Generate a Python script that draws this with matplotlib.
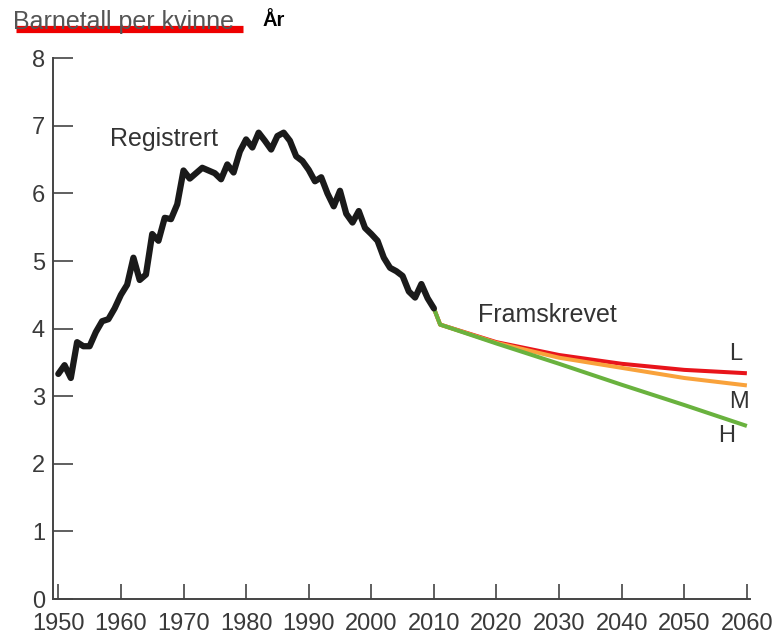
import matplotlib
matplotlib.use("Agg")
import matplotlib.pyplot as plt
from matplotlib.lines import Line2D

plt.rcParams['font.family'] = ['Liberation Sans', 'DejaVu Sans']

# Registered values
reg_years = list(range(1950, 2011))
reg_values = [3.33, 3.46, 3.27, 3.80, 3.74, 3.74, 3.95, 4.11, 4.14, 4.30,
              4.50, 4.65, 5.05, 4.72, 4.80, 5.40, 5.30, 5.64, 5.62, 5.84,
              6.34, 6.22, 6.30, 6.38, 6.34, 6.30, 6.21, 6.43, 6.31, 6.62,
              6.80, 6.68, 6.90, 6.78, 6.65, 6.85, 6.90, 6.78, 6.55, 6.48,
              6.35, 6.18, 6.24, 6.00, 5.81, 6.04, 5.70, 5.57, 5.74, 5.49,
              5.40, 5.30, 5.05, 4.90, 4.85, 4.78, 4.55, 4.46, 4.66, 4.45,
              4.30]

# Projections
proj_years = [2010, 2011, 2020, 2030, 2040, 2050, 2060]
proj_L = [4.30, 4.06, 3.80, 3.61, 3.48, 3.39, 3.34]
proj_M = [4.30, 4.06, 3.79, 3.57, 3.42, 3.27, 3.16]
proj_H = [4.30, 4.06, 3.78, 3.48, 3.17, 2.87, 2.56]

x_ticks = list(range(1950, 2061, 10))
y_ticks = list(range(0, 9))

W, H = 777, 636
fig = plt.figure(figsize=(W / 100, H / 100), dpi=100)
ax = fig.add_axes([53.3 / W, 1 - 599 / H, (750 - 53.3) / W, (599 - 58.3) / H])

ax.plot(proj_years, proj_L, color='#e8141b', lw=2.9, solid_capstyle='butt', zorder=2)
ax.plot(proj_years, proj_M, color='#f9a23b', lw=2.9, solid_capstyle='butt', zorder=3)
ax.plot(proj_years, proj_H, color='#69b23e', lw=2.9, solid_capstyle='butt', zorder=4)
ax.plot(reg_years, reg_values, color='#1a1a1a', lw=4.5, solid_joinstyle='round',
        solid_capstyle='round', zorder=5)

ax.set_xlim(1949.2, 2060.5)
ax.set_ylim(0, 8)
ax.set_xticks(x_ticks)
ax.set_yticks(y_ticks)
ax.set_xticklabels([str(v) for v in x_ticks])
ax.set_yticklabels([str(v) for v in y_ticks])

for s in ['top', 'right']:
    ax.spines[s].set_visible(False)
for s in ['left', 'bottom']:
    ax.spines[s].set_color('#444444')
    ax.spines[s].set_linewidth(1.4)

ax.tick_params(axis='x', direction='in', length=10.5, width=1.2, color='#444444',
               labelsize=17, labelcolor='#3a3a3a', pad=10)
ax.tick_params(axis='y', direction='in', length=14.5, width=1.2, color='#444444',
               labelsize=17, labelcolor='#3a3a3a', pad=6)

ax.text(1966.9, 6.80, 'Registrert', fontsize=18, color='#333333', ha='center', va='center')
ax.text(2028.1, 4.20, 'Framskrevet', fontsize=18, color='#333333', ha='center', va='center')
ax.text(2058.2, 3.62, 'L', fontsize=17, color='#333333', ha='center', va='center')
ax.text(2058.7, 2.91, 'M', fontsize=17, color='#333333', ha='center', va='center')
ax.text(2056.8, 2.41, 'H', fontsize=17, color='#333333', ha='center', va='center')

fig.text(13 / W, 1 - 22 / H, 'Barnetall per kvinne', fontsize=18, color='#555555',
         ha='left', va='center')
fig.add_artist(Line2D([16 / W, 243 / W], [1 - 28.5 / H, 1 - 28.5 / H],
                      transform=fig.transFigure, color='#ee0000', lw=5.2,
                      solid_capstyle='butt'))
fig.text(263 / W, 1 - 20 / H, 'År', fontsize=14.5, fontweight='bold', color='black',
         ha='left', va='center')

fig.savefig('out.png', dpi=100)
